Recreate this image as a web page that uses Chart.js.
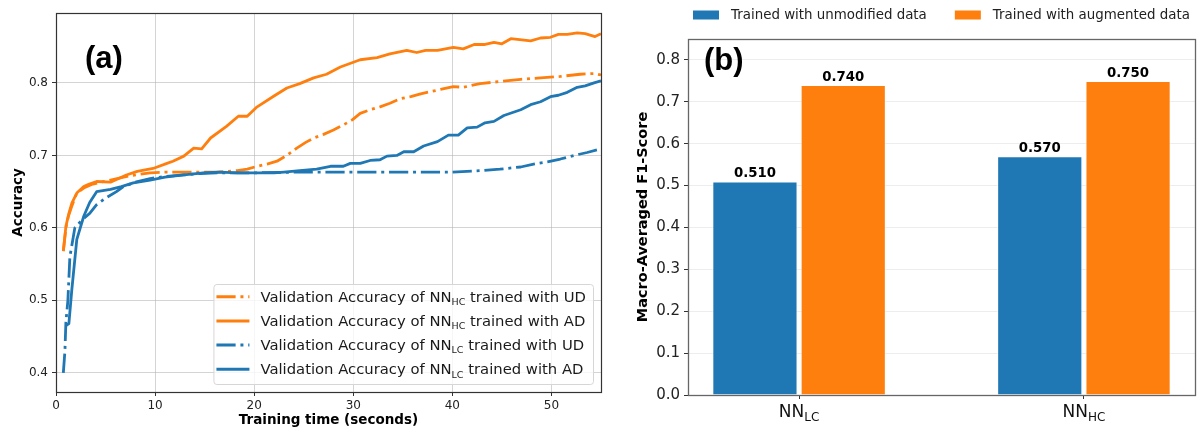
<!DOCTYPE html>
<html>
<head>
<meta charset="utf-8">
<title>Accuracy and F1</title>
<script src="https://cdn.jsdelivr.net/npm/chart.js@4.4.1/dist/chart.umd.min.js"></script>
<style>
    html, body { margin: 0; padding: 0; background: #fff; }
    #wrap { position: relative; width: 1203px; height: 432px; overflow: hidden; }
    #accCanvas { position: absolute; left: 0; top: 0; }
    #f1Canvas { position: absolute; left: 605px; top: 0; }
</style>
</head>
<body>
<div id="wrap">
    <canvas id="accCanvas" width="605" height="432"></canvas>
    <canvas id="f1Canvas" width="598" height="432"></canvas>
</div>
<script>
'use strict';

var BLUE = '#1f77b4';
var ORANGE = '#ff7f0e';

// (a) validation accuracy against training time (seconds)
var hcUdTime = [0.74, 1.0, 1.25, 1.6, 2.1, 2.8, 3.6, 4.5, 5.5, 6.5, 7.5, 8.5, 9.5, 11.0, 12.9, 14.5, 16.2, 17.3, 18.3, 19.3, 20.3, 21.3, 22.3, 23.3, 24.3, 25.2, 26.0, 27.0, 28.0, 29.0, 29.9, 30.7, 31.7, 32.7, 33.7, 34.7, 35.8, 36.8, 37.8, 38.8, 40.1, 41.1, 42.8, 44.8, 46.9, 48.9, 50.9, 52.9, 54.3, 55.0];
var hcUdAcc = [0.568, 0.600, 0.616, 0.630, 0.648, 0.655, 0.660, 0.663, 0.666, 0.669, 0.672, 0.674, 0.676, 0.677, 0.677, 0.677, 0.677, 0.678, 0.679, 0.681, 0.685, 0.688, 0.692, 0.700, 0.710, 0.718, 0.724, 0.729, 0.735, 0.742, 0.749, 0.758, 0.763, 0.767, 0.772, 0.778, 0.781, 0.785, 0.788, 0.791, 0.795, 0.794, 0.799, 0.802, 0.805, 0.807, 0.809, 0.812, 0.813, 0.811];

var hcAdTime = [0.74, 1.0, 1.3, 1.6, 2.1, 2.8, 3.3, 4.1, 5.5, 7.1, 8.2, 9.8, 11.2, 11.8, 12.9, 13.9, 14.7, 15.6, 17.2, 18.4, 19.3, 20.3, 22.0, 23.3, 24.6, 26.0, 27.3, 28.7, 30.7, 32.4, 33.7, 35.4, 36.4, 37.3, 38.5, 40.1, 41.1, 42.2, 43.2, 44.2, 45.0, 45.9, 47.9, 48.9, 49.9, 50.7, 51.6, 52.6, 53.4, 54.4, 55.0];
var hcAdAcc = [0.568, 0.602, 0.620, 0.634, 0.648, 0.657, 0.660, 0.664, 0.663, 0.673, 0.678, 0.682, 0.689, 0.692, 0.699, 0.710, 0.709, 0.724, 0.740, 0.754, 0.754, 0.767, 0.782, 0.793, 0.799, 0.807, 0.812, 0.822, 0.832, 0.835, 0.840, 0.845, 0.842, 0.845, 0.845, 0.849, 0.847, 0.853, 0.853, 0.856, 0.854, 0.861, 0.858, 0.862, 0.863, 0.867, 0.867, 0.869, 0.868, 0.864, 0.868];

var lcUdTime = [0.74, 0.9, 1.0, 1.2, 1.4, 1.9, 2.7, 3.4, 4.1, 5.0, 6.1, 6.8, 8.0, 9.5, 11.0, 12.9, 14.5, 16.2, 18.3, 20.3, 25.0, 30.0, 35.0, 40.0, 42.8, 44.8, 46.9, 48.2, 49.6, 50.9, 52.3, 53.6, 55.0];
var lcUdAcc = [0.400, 0.430, 0.470, 0.500, 0.560, 0.600, 0.612, 0.620, 0.632, 0.641, 0.650, 0.657, 0.663, 0.668, 0.671, 0.673, 0.675, 0.676, 0.676, 0.676, 0.677, 0.677, 0.677, 0.677, 0.679, 0.681, 0.684, 0.688, 0.691, 0.695, 0.700, 0.704, 0.709];

var lcAdTime = [1.0, 1.3, 1.6, 2.1, 2.8, 3.4, 4.1, 5.5, 6.6, 7.8, 9.5, 11.0, 12.9, 14.9, 16.5, 18.3, 20.3, 22.0, 23.0, 24.6, 26.3, 27.7, 29.0, 29.7, 30.7, 31.7, 32.7, 33.4, 34.4, 35.1, 36.1, 37.1, 38.5, 39.6, 40.6, 41.5, 42.5, 43.3, 44.2, 45.2, 46.9, 47.9, 48.9, 49.9, 50.7, 51.6, 52.6, 53.4, 54.3, 55.0];
var lcAdAcc = [0.465, 0.468, 0.515, 0.584, 0.616, 0.635, 0.650, 0.653, 0.657, 0.662, 0.666, 0.670, 0.673, 0.676, 0.677, 0.676, 0.676, 0.676, 0.677, 0.679, 0.681, 0.685, 0.685, 0.689, 0.689, 0.693, 0.694, 0.699, 0.700, 0.705, 0.705, 0.713, 0.719, 0.728, 0.728, 0.738, 0.739, 0.745, 0.747, 0.755, 0.763, 0.770, 0.774, 0.781, 0.783, 0.787, 0.794, 0.796, 0.800, 0.803];

var accXTicks = [0, 10, 20, 30, 40, 50];
var accYTicks = [0.4, 0.5, 0.6, 0.7, 0.8];
var accModelSub = ['HC', 'HC', 'LC', 'LC'];
var accTrainData = ['UD', 'AD', 'UD', 'AD'];

// (b) macro-averaged F1
var f1CatMain = ['NN', 'NN'];
var f1CatSub = ['LC', 'HC'];
var f1Unmodified = [0.510, 0.570];
var f1Augmented = [0.740, 0.750];
var f1YTicks = [0.0, 0.1, 0.2, 0.3, 0.4, 0.5, 0.6, 0.7, 0.8];
var f1SeriesLabels = ['Trained with unmodified data', 'Trained with augmented data'];

var FONT = '"DejaVu Sans", sans-serif';
var DASH_DOT = [19.2, 4.8, 3, 4.8];
var GRID = 'rgba(176, 176, 176, 0.55)';

Chart.defaults.font.family = FONT;

function pairs(xs, ys) {
    return xs.map(function (x, i) {
        return { x: x, y: ys[i] };
    });
}

function fixedTicks(values) {
    return function (scale) {
        scale.ticks = values.map(function (v) { return { value: v }; });
    };
}

// text with a lowered, smaller run (NN_HC etc.)
function richWidth(ctx, parts, mainFont, subFont) {
    var w = 0;
    parts.forEach(function (p) {
        ctx.font = p.sub ? subFont : mainFont;
        w += ctx.measureText(p.t).width;
    });
    return w;
}

function drawRich(ctx, parts, x, y, mainFont, subFont, drop) {
    parts.forEach(function (p) {
        ctx.font = p.sub ? subFont : mainFont;
        ctx.fillText(p.t, x, p.sub ? y + drop : y);
        x += ctx.measureText(p.t).width;
    });
}

var framePlugin = {
    id: 'frame',
    afterDatasetsDraw: function (chart, args, opts) {
        var a = chart.chartArea;
        var ctx = chart.ctx;
        ctx.save();
        ctx.strokeStyle = opts.color;
        ctx.lineWidth = opts.width;
        ctx.strokeRect(Math.round(a.left) + 0.5, Math.round(a.top) + 0.5,
            Math.round(a.right - a.left), Math.round(a.bottom - a.top));
        ctx.restore();
    }
};

var panelTagPlugin = {
    id: 'panelTag',
    afterDraw: function (chart, args, opts) {
        var a = chart.chartArea;
        var ctx = chart.ctx;
        ctx.save();
        ctx.font = 'bold 31px "Liberation Sans", Arial, sans-serif';
        ctx.fillStyle = '#000';
        ctx.textBaseline = 'alphabetic';
        ctx.fillText(opts.text, a.left + opts.dx, a.top + opts.dy);
        ctx.restore();
    }
};

var accSeries = [
    { time: hcUdTime, acc: hcUdAcc, color: ORANGE, dash: DASH_DOT },
    { time: hcAdTime, acc: hcAdAcc, color: ORANGE, dash: [] },
    { time: lcUdTime, acc: lcUdAcc, color: BLUE, dash: DASH_DOT },
    { time: lcAdTime, acc: lcAdAcc, color: BLUE, dash: [] }
];

function accLegendParts(i) {
    return [
        { t: 'Validation Accuracy of NN' },
        { t: accModelSub[i], sub: true },
        { t: ' trained with ' + accTrainData[i] }
    ];
}

var accLegendPlugin = {
    id: 'accLegend',
    afterDraw: function (chart) {
        var ctx = chart.ctx;
        var a = chart.chartArea;
        var mainFont = '14.8px ' + FONT;
        var subFont = '9.5px ' + FONT;
        var textW = 0;
        var i;
        for (i = 0; i < accSeries.length; i++) {
            textW = Math.max(textW, richWidth(ctx, accLegendParts(i), mainFont, subFont));
        }
        var boxW = 3 + 33 + 11 + textW + 7;
        var boxH = 100;
        var bx = a.right - 8 - boxW;
        var by = a.bottom - 8 - boxH;

        ctx.save();
        ctx.beginPath();
        ctx.roundRect(bx + 0.5, by + 0.5, boxW, boxH, 3);
        ctx.fillStyle = 'rgba(255, 255, 255, 0.8)';
        ctx.fill();
        ctx.strokeStyle = '#d6d6d6';
        ctx.lineWidth = 1;
        ctx.stroke();

        for (i = 0; i < accSeries.length; i++) {
            var s = accSeries[i];
            var cy = by + 12.7 + i * 24.2;
            ctx.beginPath();
            ctx.setLineDash(s.dash);
            ctx.strokeStyle = s.color;
            ctx.lineWidth = 3;
            ctx.lineCap = 'butt';
            ctx.moveTo(bx + 3, cy);
            ctx.lineTo(bx + 36, cy);
            ctx.stroke();
            ctx.setLineDash([]);
            ctx.fillStyle = '#1a1a1a';
            ctx.textBaseline = 'alphabetic';
            drawRich(ctx, accLegendParts(i), bx + 47, cy + 5, mainFont, subFont, 3.3);
        }
        ctx.restore();
    }
};

var accDatasets = accSeries.map(function (s, i) {
    return {
        data: pairs(s.time, s.acc),
        borderColor: s.color,
        backgroundColor: s.color,
        borderWidth: 2.8,
        borderDash: s.dash,
        borderJoinStyle: 'round',
        pointRadius: 0,
        tension: 0,
        fill: false,
        order: accSeries.length - i
    };
});

new Chart(document.getElementById('accCanvas'), {
    type: 'line',
    data: { datasets: accDatasets },
    options: {
        responsive: false,
        animation: false,
        events: [],
        layout: { padding: { top: 13, right: 4, left: 0, bottom: 0 } },
        plugins: {
            legend: { display: false },
            tooltip: { enabled: false },
            frame: { color: '#333', width: 1.2 },
            panelTag: { text: '(a)', dx: 29, dy: 55 }
        },
        scales: {
            x: {
                type: 'linear',
                min: 0,
                max: 55,
                afterBuildTicks: fixedTicks(accXTicks),
                afterFit: function (scale) { scale.height = 40; },
                ticks: {
                    color: '#222',
                    font: { size: 12 },
                    padding: 3,
                    maxRotation: 0,
                    callback: function (v) { return String(v); }
                },
                grid: { color: GRID, tickColor: '#333', tickLength: 4 },
                border: { display: false },
                title: {
                    display: true,
                    text: 'Training time (seconds)',
                    color: '#000',
                    font: { size: 13.5, weight: 'bold' },
                    padding: { top: 0, bottom: 3 }
                }
            },
            y: {
                min: 0.3735,
                max: 0.8965,
                afterBuildTicks: fixedTicks(accYTicks),
                afterFit: function (scale) { scale.width = 56; },
                ticks: {
                    color: '#222',
                    font: { size: 12 },
                    padding: 4,
                    callback: function (v) { return v.toFixed(1); }
                },
                grid: { color: GRID, tickColor: '#333', tickLength: 4 },
                border: { display: false },
                title: {
                    display: true,
                    text: 'Accuracy',
                    color: '#000',
                    font: { size: 13.5, weight: 'bold' },
                    padding: { top: 10, bottom: 0 }
                }
            }
        }
    },
    plugins: [framePlugin, accLegendPlugin, panelTagPlugin]
});

// ---- (b) ----

var f1Colors = [BLUE, ORANGE];

var f1LegendPlugin = {
    id: 'f1Legend',
    afterDraw: function (chart) {
        var ctx = chart.ctx;
        var a = chart.chartArea;
        var sw = 26, sh = 9, gap = 12, spacing = 28;
        ctx.save();
        ctx.font = '13.4px ' + FONT;
        var widths = f1SeriesLabels.map(function (t) { return ctx.measureText(t).width; });
        var total = 0;
        widths.forEach(function (w, i) {
            total += sw + gap + w + (i ? spacing : 0);
        });
        var x = (a.left + a.right) / 2 - total / 2;
        var cy = 15;
        ctx.textBaseline = 'middle';
        for (var i = 0; i < f1SeriesLabels.length; i++) {
            ctx.fillStyle = f1Colors[i];
            ctx.fillRect(x, cy - sh / 2, sw, sh);
            ctx.fillStyle = '#222';
            ctx.fillText(f1SeriesLabels[i], x + sw + gap, cy + 0.5);
            x += sw + gap + widths[i] + spacing;
        }
        ctx.restore();
    }
};

var f1CategoryPlugin = {
    id: 'f1Category',
    afterDraw: function (chart) {
        var ctx = chart.ctx;
        var xs = chart.scales.x;
        var a = chart.chartArea;
        var mainFont = '17px ' + FONT;
        var subFont = '12px ' + FONT;
        ctx.save();
        ctx.fillStyle = '#111';
        ctx.textBaseline = 'alphabetic';
        for (var i = 0; i < f1CatMain.length; i++) {
            var parts = [{ t: f1CatMain[i] }, { t: f1CatSub[i], sub: true }];
            var w = richWidth(ctx, parts, mainFont, subFont);
            var px = xs.getPixelForValue(i);
            drawRich(ctx, parts, px - w / 2, a.bottom + 21.5, mainFont, subFont, 4);
        }
        ctx.restore();
    }
};

var f1ValuePlugin = {
    id: 'f1Values',
    afterDatasetsDraw: function (chart) {
        var ctx = chart.ctx;
        ctx.save();
        ctx.font = 'bold 13.3px ' + FONT;
        ctx.fillStyle = '#000';
        ctx.textAlign = 'center';
        ctx.textBaseline = 'alphabetic';
        chart.data.datasets.forEach(function (ds, di) {
            var meta = chart.getDatasetMeta(di);
            meta.data.forEach(function (bar, i) {
                ctx.fillText(ds.data[i].y.toFixed(3), bar.x, bar.y - 4);
            });
        });
        ctx.restore();
    }
};

var catIndex = f1CatMain.map(function (c, i) { return i; });

new Chart(document.getElementById('f1Canvas'), {
    type: 'bar',
    data: {
        datasets: [
            {
                label: f1SeriesLabels[0],
                data: pairs(catIndex, f1Unmodified),
                backgroundColor: BLUE,
                borderColor: 'rgba(255, 255, 255, 0.6)',
                borderWidth: 1,
                categoryPercentage: 0.62,
                barPercentage: 0.965
            },
            {
                label: f1SeriesLabels[1],
                data: pairs(catIndex, f1Augmented),
                backgroundColor: ORANGE,
                borderColor: 'rgba(255, 255, 255, 0.6)',
                borderWidth: 1,
                categoryPercentage: 0.62,
                barPercentage: 0.965
            }
        ]
    },
    options: {
        responsive: false,
        animation: false,
        events: [],
        layout: { padding: { top: 39, right: 8, left: 0, bottom: 0 } },
        plugins: {
            legend: { display: false },
            tooltip: { enabled: false },
            frame: { color: '#666', width: 1.3 },
            panelTag: { text: '(b)', dx: 16, dy: 30.5 }
        },
        scales: {
            x: {
                type: 'linear',
                min: -0.39,
                max: 1.39,
                offset: false,
                afterBuildTicks: fixedTicks(catIndex),
                afterFit: function (scale) { scale.height = 37; },
                ticks: { display: false },
                grid: { display: true, drawOnChartArea: false, offset: false, tickColor: '#333', tickLength: 4 },
                border: { display: false }
            },
            y: {
                min: 0,
                max: 0.85,
                afterBuildTicks: fixedTicks(f1YTicks),
                afterFit: function (scale) { scale.width = 83; },
                ticks: {
                    color: '#222',
                    font: { size: 15 },
                    padding: 4,
                    callback: function (v) { return v.toFixed(1); }
                },
                grid: { color: 'rgba(0, 0, 0, 0.07)', tickColor: '#333', tickLength: 4 },
                border: { display: false },
                title: {
                    display: true,
                    text: 'Macro-Averaged F1-Score',
                    color: '#000',
                    font: { size: 14.5, weight: 'bold' },
                    padding: { top: 30, bottom: 0 }
                }
            }
        }
    },
    plugins: [framePlugin, f1ValuePlugin, f1LegendPlugin, f1CategoryPlugin, panelTagPlugin]
});
</script>
</body>
</html>
